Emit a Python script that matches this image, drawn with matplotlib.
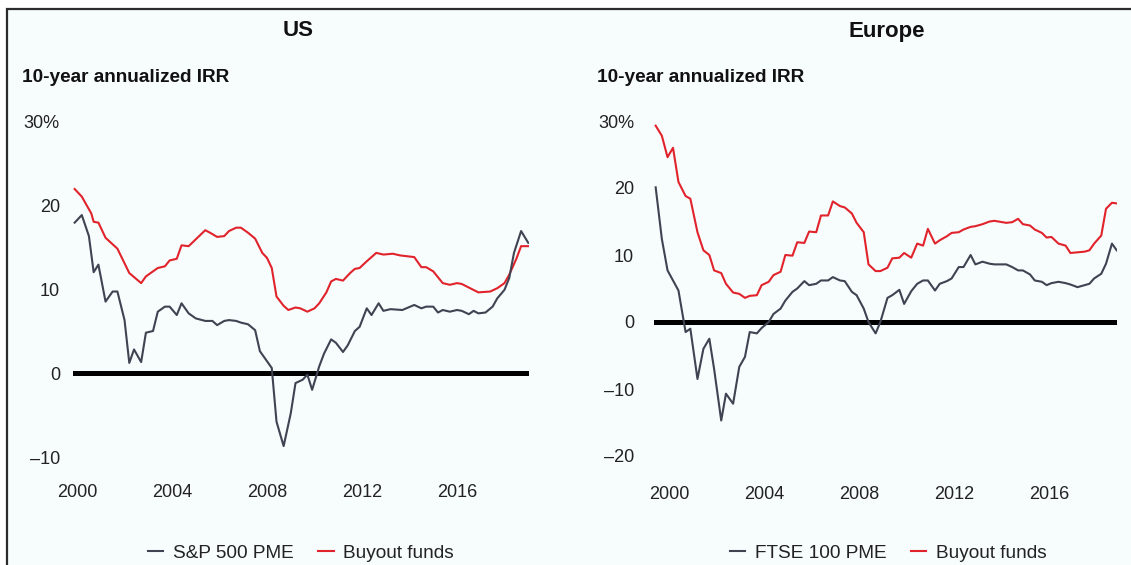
import matplotlib
matplotlib.use("Agg")
import matplotlib.pyplot as plt
from matplotlib.lines import Line2D
from matplotlib.patches import Rectangle

plt.rcParams['font.family'] = ['Liberation Sans', 'DejaVu Sans']

# US panel (year, % IRR)
us_spx_years = [1999.9, 2000.2, 2000.5, 2000.7, 2000.9, 2001.2, 2001.5, 2001.7, 2002.0, 2002.2,
                2002.4, 2002.7, 2002.9, 2003.2, 2003.4, 2003.7, 2003.9, 2004.2, 2004.4, 2004.7,
                2005.0, 2005.4, 2005.7, 2005.9, 2006.2, 2006.4, 2006.7, 2006.9, 2007.2, 2007.5,
                2007.7, 2007.9, 2008.2, 2008.4, 2008.7, 2009.0, 2009.2, 2009.5, 2009.7, 2009.9,
                2010.2, 2010.4, 2010.7, 2010.9, 2011.2, 2011.4, 2011.7, 2011.9, 2012.2, 2012.4,
                2012.7, 2012.9, 2013.2, 2013.7, 2014.2, 2014.5, 2014.7, 2015.0, 2015.2, 2015.4,
                2015.7, 2016.0, 2016.2, 2016.5, 2016.7, 2016.9, 2017.2, 2017.5, 2017.7, 2018.0,
                2018.2, 2018.4, 2018.7, 2019.0]
us_spx = [17.9, 18.8, 16.3, 12.0, 12.9, 8.5, 9.7, 9.7, 6.3, 1.2,
          2.8, 1.3, 4.8, 5.0, 7.3, 7.9, 7.9, 6.9, 8.3, 7.1,
          6.5, 6.2, 6.2, 5.7, 6.2, 6.3, 6.2, 6.0, 5.8, 5.1,
          2.6, 1.8, 0.6, -5.8, -8.7, -4.8, -1.2, -0.8, -0.2, -2.0,
          0.8, 2.3, 4.0, 3.6, 2.5, 3.3, 5.0, 5.5, 7.7, 6.9,
          8.3, 7.4, 7.6, 7.5, 8.1, 7.7, 7.9, 7.9, 7.2, 7.5,
          7.3, 7.5, 7.4, 7.0, 7.4, 7.1, 7.2, 7.9, 8.9, 9.9,
          11.3, 14.3, 16.9, 15.5]

us_buyout_years = [1999.9, 2000.2, 2000.6, 2000.7, 2000.9, 2001.2, 2001.7, 2002.2, 2002.7, 2002.9,
                   2003.4, 2003.7, 2003.9, 2004.2, 2004.4, 2004.7, 2005.4, 2005.6, 2005.9, 2006.2,
                   2006.4, 2006.7, 2006.9, 2007.2, 2007.5, 2007.8, 2008.0, 2008.2, 2008.4, 2008.7,
                   2008.9, 2009.2, 2009.4, 2009.7, 2010.0, 2010.2, 2010.5, 2010.7, 2010.9, 2011.2,
                   2011.5, 2011.7, 2011.9, 2012.2, 2012.6, 2012.9, 2013.3, 2013.6, 2014.2, 2014.5,
                   2014.7, 2015.0, 2015.4, 2015.7, 2016.0, 2016.2, 2016.9, 2017.4, 2017.7, 2018.0,
                   2018.2, 2018.5, 2018.7, 2019.0]
us_buyout = [21.9, 21.0, 19.0, 18.0, 17.9, 16.1, 14.8, 11.9, 10.7, 11.5,
             12.5, 12.7, 13.4, 13.6, 15.2, 15.1, 17.0, 16.7, 16.2, 16.3,
             16.9, 17.3, 17.3, 16.7, 16.0, 14.3, 13.7, 12.5, 9.1, 8.0,
             7.5, 7.8, 7.7, 7.3, 7.7, 8.3, 9.6, 10.9, 11.2, 11.0,
             11.9, 12.4, 12.5, 13.3, 14.3, 14.1, 14.2, 14.0, 13.8, 12.6,
             12.6, 12.1, 10.7, 10.5, 10.7, 10.6, 9.6, 9.7, 10.1, 10.7,
             11.7, 13.6, 15.1, 15.1]

# Europe panel
eu_years = [1999.44, 1999.7, 1999.94, 2000.17, 2000.4, 2000.7, 2000.9, 2001.2, 2001.45, 2001.7,
            2001.9, 2002.2, 2002.4, 2002.7, 2002.96, 2003.2, 2003.4, 2003.7, 2003.9, 2004.2,
            2004.4, 2004.7, 2004.9, 2005.2, 2005.4, 2005.7, 2005.9, 2006.2, 2006.4, 2006.7,
            2006.9, 2007.2, 2007.4, 2007.7, 2007.9, 2008.2, 2008.4, 2008.7, 2008.9, 2009.2,
            2009.4, 2009.7, 2009.9, 2010.2, 2010.45, 2010.7, 2010.9, 2011.2, 2011.4, 2011.7,
            2011.9, 2012.2, 2012.4, 2012.7, 2012.9, 2013.2, 2013.5, 2013.7, 2014.2, 2014.45,
            2014.7, 2014.9, 2015.2, 2015.4, 2015.7, 2015.9, 2016.1, 2016.4, 2016.7, 2016.9,
            2017.2, 2017.5, 2017.7, 2017.9, 2018.2, 2018.4, 2018.65, 2018.85]
eu_ftse = [20.1, 12.4, 7.7, 6.2, 4.7, -1.5, -1.0, -8.5, -4.0, -2.5,
           -7.0, -14.7, -10.7, -12.2, -6.7, -5.2, -1.5, -1.7, -0.9, 0.0,
           1.2, 2.0, 3.2, 4.5, 5.0, 6.1, 5.5, 5.7, 6.2, 6.2,
           6.7, 6.2, 6.1, 4.5, 4.0, 2.0, 0.0, -1.7, 0.0, 3.6,
           4.0, 4.8, 2.7, 4.6, 5.7, 6.2, 6.2, 4.7, 5.7, 6.1,
           6.5, 8.2, 8.2, 10.0, 8.6, 9.0, 8.7, 8.6, 8.6, 8.2,
           7.7, 7.7, 7.1, 6.2, 6.0, 5.5, 5.8, 6.0, 5.8, 5.6,
           5.2, 5.5, 5.7, 6.5, 7.2, 8.7, 11.7, 10.7]
eu_buyout = [29.3, 27.8, 24.6, 26.0, 20.9, 18.8, 18.4, 13.4, 10.7, 10.0,
             7.7, 7.3, 5.7, 4.4, 4.2, 3.6, 3.9, 4.0, 5.5, 6.0,
             7.0, 7.5, 10.0, 9.9, 11.9, 11.8, 13.5, 13.4, 15.9, 15.9,
             18.0, 17.3, 17.1, 16.2, 14.8, 13.4, 8.6, 7.6, 7.6, 8.1,
             9.5, 9.6, 10.3, 9.6, 11.7, 11.4, 13.9, 11.7, 12.2, 12.8,
             13.3, 13.4, 13.8, 14.2, 14.3, 14.6, 15.0, 15.1, 14.8, 14.9,
             15.4, 14.6, 14.4, 13.8, 13.3, 12.6, 12.7, 11.7, 11.4, 10.3,
             10.4, 10.5, 10.7, 11.7, 12.9, 16.9, 17.8, 17.7]

x_ticks = [2000, 2004, 2008, 2012, 2016]
us_yticks = [-10, 0, 10, 20, 30]
eu_yticks = [-20, -10, 0, 10, 20, 30]

GREY = '#3f4352'
RED = '#e1232c'
W, H = 1131, 565


def px_rect(l, t, r, b):
    return [l / W, 1 - b / H, (r - l) / W, (b - t) / H]


def tick_text(v):
    if v == 30:
        return '30%'
    return str(v).replace('-', '\u2013')


fig = plt.figure(figsize=(W / 100, H / 100), dpi=100, facecolor='white')
fig.patches.append(Rectangle((7 / W, -0.1), 1.1, 1 - 9 / H + 0.1, transform=fig.transFigure,
                             facecolor='#f7fcfd', edgecolor='#2b2b2b', lw=1.6, zorder=-5))

ax_us = fig.add_axes(px_rect(73, 112.6, 528.7, 473.8))
ax_eu = fig.add_axes(px_rect(654, 114.3, 1116.7, 476.1))

panels = [
    (ax_us, us_spx_years, us_spx, us_buyout_years, us_buyout, (1999.83, 2019.02), (-12, 31),
     us_yticks, 9.4, 'S&P 500 PME', 'US', 298, 22, 301),
    (ax_eu, eu_years, eu_ftse, eu_years, eu_buyout, (1999.37, 2018.85), (-23, 31),
     eu_yticks, 14.4, 'FTSE 100 PME', 'Europe', 887, 597, 888),
]

for (ax, gx, gy, rx, ry, xlim, ylim, yticks, ypad, pme_name, title,
     title_x, sub_x, leg_x) in panels:
    ax.set_facecolor('none')
    ax.axhline(0, color='black', lw=3.6, zorder=1)
    ax.plot(gx, gy, color=GREY, lw=1.5, zorder=3)
    ax.plot(rx, ry, color=RED, lw=1.5, zorder=2)
    ax.set_xlim(*xlim)
    ax.set_ylim(*ylim)
    ax.set_xticks(x_ticks)
    ax.set_xticklabels([str(x) for x in x_ticks])
    ax.set_yticks(yticks)
    ax.set_yticklabels([tick_text(v) for v in yticks])
    ax.tick_params(axis='both', length=0, labelsize=13, labelcolor='#222222')
    ax.tick_params(axis='x', pad=7)
    ax.tick_params(axis='y', pad=ypad)
    for s in ax.spines.values():
        s.set_visible(False)

    fig.text(title_x / W, 1 - 31 / H, title, ha='center', va='center',
             fontsize=16, fontweight='bold', color='#111111')
    fig.text(sub_x / W, 1 - 77 / H, '10-year annualized IRR', ha='left', va='center',
             fontsize=13.7, fontweight='bold', color='#111111')

    handles = [Line2D([], [], color=GREY, lw=1.5), Line2D([], [], color=RED, lw=1.5)]
    fig.legend(handles, [pme_name, 'Buyout funds'], loc='center', ncol=2,
               bbox_to_anchor=(leg_x / W, 1 - 553 / H), frameon=False,
               fontsize=13.7, handlelength=0.8, handletextpad=0.5, columnspacing=1.3,
               labelcolor='#222222')

fig.savefig('out.png', dpi=100, facecolor='white')
